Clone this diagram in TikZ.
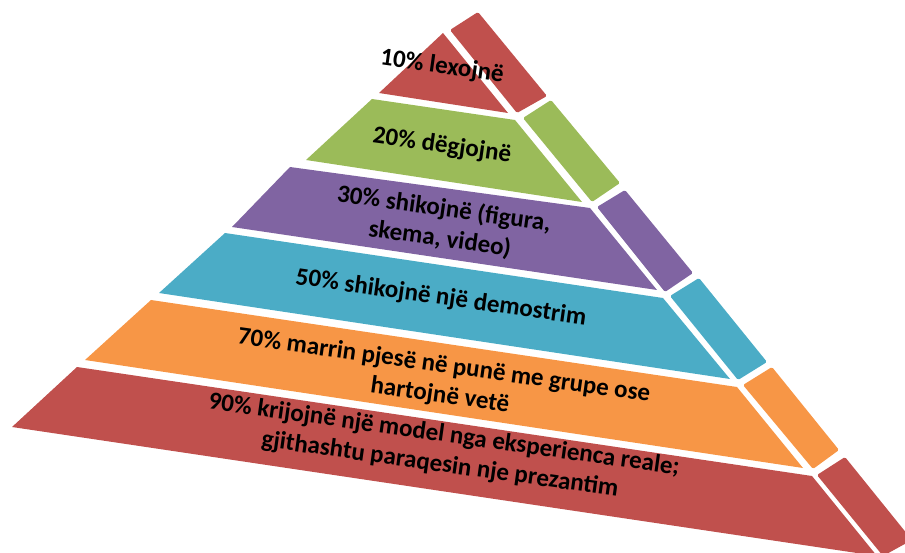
\documentclass[tikz,border=0pt]{standalone}
\usepackage{fontspec}
\setmainfont{Carlito}
\definecolor{tierred}{HTML}{C0504D}
\definecolor{tiergreen}{HTML}{9BBB59}
\definecolor{tierpurple}{HTML}{8064A2}
\definecolor{tiercyan}{HTML}{4BACC6}
\definecolor{tierorange}{HTML}{F79646}

\begin{document}
\begin{tikzpicture}[
    x=1pt, y=-1pt,
    side/.style={rounded corners=1.5pt},
    lbl/.style={font=\bfseries\fontsize{25}{30}\selectfont, align=center,
                rotate=-8, inner sep=0pt},
]
\useasboundingbox (0,0) rectangle (905,553);
\clip (0,0) rectangle (905,553);

% ---------- tier 1: 10% ----------
\fill[tierred] (379,93) -- (443,33) -- (508,113) -- cycle;
\fill[tierred, side] (450,30) -- (478,12) -- (547,96) -- (517,113) -- cycle;
\node[lbl] (t10) at (442,67) {10\% lexojnë};

% ---------- tier 2: 20% ----------
\fill[tiergreen] (372,99) -- (515,120) -- (582,202) -- (306,160) -- cycle;
\fill[tiergreen, side] (523,118) -- (551,100) -- (620,183) -- (592,202) -- cycle;
\node[lbl] (t20) at (442,146) {20\% dëgjojnë};

% ---------- tier 3: 30% ----------
\fill[tierpurple] (290,167) -- (590,208) -- (657,290) -- (232,227) -- cycle;
\fill[tierpurple, side] (597,207) -- (625,190) -- (693,273) -- (665,292) -- cycle;
\node[lbl] (t30) at (442,224) {30\% shikojnë (figura,\\skema, video)};

% ---------- tier 4: 50% ----------
\fill[tiercyan] (225,233) -- (663,298) -- (730,379) -- (159,293) -- cycle;
\fill[tiercyan, side] (670,296) -- (699,278) -- (767,362) -- (738,380) -- cycle;
\node[lbl] (t50) at (441,298) {50\% shikojnë një demostrim};

% ---------- tier 5: 70% ----------
\fill[tierorange] (151,300) -- (737,387) -- (803,468) -- (85,360) -- cycle;
\fill[tierorange, side] (743,385) -- (772,367) -- (839,450) -- (813,469) -- cycle;
\node[lbl] (t70) at (442,381) {70\% marrin pjesë në punë me grupe ose\\hartojnë vetë};

% ---------- tier 6: 90% ----------
\fill[tierred] (77,367) -- (812,476) -- (877,556) -- (12,427) -- cycle;
\fill[tierred, side] (817,475) -- (845,457) -- (912,540) -- (883,556) -- cycle;
\node[lbl] (t90) at (442,450) {90\% krijojnë një model nga eksperienca reale;\\gjithashtu paraqesin nje prezantim};

\end{tikzpicture}
\end{document}
